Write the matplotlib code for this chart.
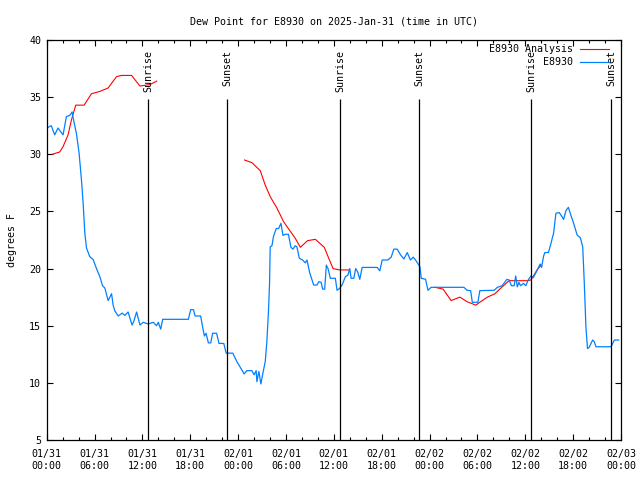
#!/usr/bin/env python
import numpy as np
import matplotlib
matplotlib.use('Agg')
import matplotlib.pyplot as plt

nan = np.nan

# hours since 2025-01-31 00:00 UTC
obs_hours = [0.17, 0.58, 1.0, 1.42, 1.72, 2.05, 2.47, 2.89, 3.18, 3.31, 3.73, 4.06, 4.36, 4.57,
             4.78, 4.99, 5.4, 5.82, 6.24, 6.66, 7.0, 7.29, 7.7, 8.13, 8.33, 8.54, 8.96, 9.46,
             9.8, 10.2, 10.7, 10.9, 11.27, 11.69, 12.1, 12.73, 13.36, 13.78, 13.99, 14.29,
             14.54, 17.76, 18.05, 18.4, 18.6, 19.3, 19.57, 19.77, 19.98, 20.27, 20.57, 20.8,
             21.3, 21.6, 22.2, 22.5, 23.33, 23.84, 24.34, 24.76, 25.09, 25.72, 26.0, 26.26,
             26.35, 26.6, 26.85, 27.1, 27.4, 27.6, 27.8, 27.94, 28.02, 28.24, 28.43, 28.78,
             29.07, 29.37, 29.62, 29.9, 30.3, 30.62, 30.87, 31.16, 31.37, 31.67, 32.08, 32.42,
             32.63, 32.97, 33.47, 33.89, 34.1, 34.4, 34.6, 34.85, 35.06, 35.27, 35.56, 36.19,
             36.4, 36.73, 37.03, 37.45, 37.74, 38.0, 38.16, 38.5, 38.74, 38.99, 39.25, 39.55,
             41.43, 41.76, 42.06, 42.76, 43.19, 43.52, 43.94, 44.36, 44.78, 45.2, 45.6, 45.95,
             46.24, 46.79, 46.96, 47.5, 47.8, 48.2, 52.3, 52.7, 53.15, 53.36, 54.06, 54.3,
             56.1, 56.5, 57.1, 57.7, 57.97, 58.27, 58.6, 58.8, 59.0, 59.2, 59.4, 59.77, 60.07,
             60.36, 60.7, 61.0, 61.45, 61.86, 62.04, 62.3, 62.45, 62.9, 63.2, 63.55, 63.84,
             64.26, 64.55, 64.8, 65.1, 65.4, 65.7, 66.06, 66.5, 66.9, 67.2, 67.4, 67.6, 67.8,
             68.0, 68.45, 68.65, 68.86, 70.75, 70.96, 71.17, 71.7]
obs_dewpt = [32.36, 32.5, 31.7, 32.3, 32.0, 31.7, 33.3, 33.4, 33.7, 33.2, 31.8, 30.1, 27.75, 25.7,
             23.1, 21.8, 21.04, 20.8, 20.0, 19.3, 18.5, 18.3, 17.2, 17.8, 16.8, 16.3, 15.85, 16.1,
             15.9, 16.2, 15.06, 15.35, 16.2, 15.06, 15.3, 15.15, 15.3, 15.0, 15.3, 14.7,
             15.56, 15.56, 16.4, 16.4, 15.85, 15.85, 14.8, 14.1, 14.34, 13.5, 13.5, 14.34,
             14.34, 13.45, 13.45, 12.6, 12.6, 11.86, 11.27, 10.78, 11.07, 11.07, 10.7, 11.07,
             10.1, 11.0, 9.9, 10.84, 11.86, 13.6, 16.2, 18.7, 21.9, 22.0, 22.8, 23.5,
             23.5, 23.96, 22.9, 23.0, 23.0, 21.86, 21.7, 22.0, 21.9, 20.9, 20.75, 20.5,
             20.75, 19.64, 18.56, 18.56, 18.85, 18.8, 18.2, 18.2, 20.3, 20.0, 19.15, 19.15,
             18.1, 18.27, 18.56, 19.3, 19.4, 20.0, 19.15, 19.15, 20.0, 19.7, 19.06, 20.1,
             20.1, 19.8, 20.75, 20.75, 21.0, 21.7, 21.7, 21.2, 20.84, 21.4, 20.75, 21.0,
             20.75, 20.17, 19.15, 19.06, 18.1, 18.36, 18.36, 18.1, 18.07, 17.05, 17.05, 18.07,
             18.1, 18.36, 18.5, 19.06, 19.0, 18.5, 18.5, 19.35, 18.4, 18.8, 18.5, 18.7, 18.5,
             19.0, 19.35, 19.2, 19.8, 20.4, 20.1, 21.1, 21.4, 21.4, 22.15, 23.1, 24.84,
             24.9, 24.6, 24.3, 25.07, 25.36, 24.7, 23.96, 22.94, 22.7, 21.9, 18.7, 14.9, 13.0,
             13.1, 13.75, 13.6, 13.16, 13.16, 13.46, 13.75, 13.75]

ana_hours = [0.67, 1.63, 2.05, 2.68, 3.1, 3.64, 4.69, 5.61, 6.66, 7.7, 8.76, 9.38, 10.64, 11.69,
             12.94, 13.78, nan,
             24.8, 25.72, 26.77, 27.4, 28.02, 28.86, 29.7, 30.5, 31.16, 31.8, 32.7, 33.68,
             34.8, 35.36, 35.9, 36.73, 37.87, nan,
             48.7, 49.7, 50.2, 50.7, 51.8, 52.7, 53.8, 54.4, 55.25, 56.2, 56.9, 57.97, 60.28,
             60.7, 61.1, 61.53, 62.0]
ana_dewpt = [30.0, 30.2, 30.67, 31.7, 33.0, 34.3, 34.3, 35.3, 35.5, 35.8, 36.8, 36.9, 36.9, 35.97,
             36.1, 36.4, nan,
             29.5, 29.27, 28.57, 27.3, 26.3, 25.3, 24.1, 23.3, 22.65, 21.86, 22.44, 22.56,
             21.86, 20.9, 20.0, 19.88, 19.88, nan,
             18.36, 18.2, 17.7, 17.2, 17.5, 17.1, 16.8, 17.1, 17.5, 17.8, 18.27, 18.94, 18.94,
             19.0, 19.44, 19.94, 20.3]

sunrise_hours = [12.75, 36.8, 60.76]
sunset_hours = [22.65, 46.72, 70.8]

xtick_hours = list(range(0, 73, 6))
xtick_labels = ['01/31\n00:00', '01/31\n06:00', '01/31\n12:00', '01/31\n18:00',
                '02/01\n00:00', '02/01\n06:00', '02/01\n12:00', '02/01\n18:00',
                '02/02\n00:00', '02/02\n06:00', '02/02\n12:00', '02/02\n18:00',
                '02/03\n00:00']

FONT = 'DejaVu Sans Mono'
FS = 7.2
plt.rcParams['font.family'] = FONT
plt.rcParams['font.size'] = FS

fig = plt.figure(figsize=(6.4, 4.8), dpi=100)
ax = fig.add_axes([46.7 / 640, 40 / 480, (621 - 46.7) / 640, 400 / 480])

ax.plot(ana_hours, ana_dewpt, color='#ff0000', lw=0.8, label='E8930 Analysis')
ax.plot(obs_hours, obs_dewpt, color='#0080ff', lw=0.9, label='E8930')

for h in sunrise_hours:
    ax.vlines(h, 5, 34.8, color='black', lw=0.9)
    ax.text(h, 39.15, 'Sunrise', rotation=90, ha='center', va='top')
for h in sunset_hours:
    ax.vlines(h, 5, 34.8, color='black', lw=0.9)
    ax.text(h, 39.15, 'Sunset', rotation=90, ha='center', va='top')

ax.set_xlim(0, 72)
ax.set_ylim(5, 40)
ax.set_xticks(xtick_hours)
ax.set_xticklabels(xtick_labels, linespacing=1.25)
ax.set_xticks(range(0, 73, 2), minor=True)
ax.set_yticks(range(5, 41, 5))
ax.tick_params(which='both', direction='in', top=True, right=True, width=0.8)
ax.tick_params(which='major', length=4.5)
ax.tick_params(which='minor', length=2.5)
ax.tick_params(axis='x', pad=6.5)
ax.tick_params(axis='y', pad=4)
for sp in ax.spines.values():
    sp.set_linewidth(0.9)

ax.set_ylabel('degrees F', labelpad=9)
fig.text(334 / 640, 1 - 21 / 480, 'Dew Point for E8930 on 2025-Jan-31 (time in UTC)',
         ha='center', va='center')

ax.legend(loc='upper right', bbox_to_anchor=(0.991, 1.007), frameon=False,
          markerfirst=False, handlelength=2.9, handletextpad=0.7,
          labelspacing=0.3, borderaxespad=0.3, fontsize=FS)

fig.savefig('out.png', dpi=100)
